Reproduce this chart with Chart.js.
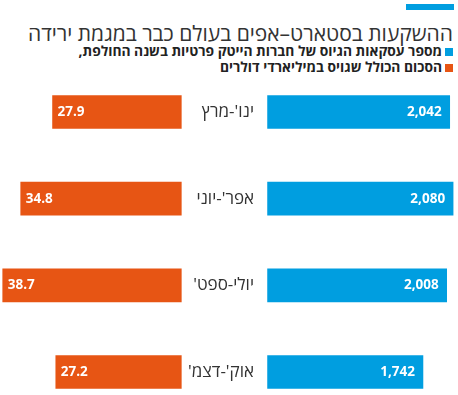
<!DOCTYPE html>
<html lang="he">
<head>
<meta charset="utf-8">
<script src="https://cdn.jsdelivr.net/npm/chart.js@4"></script>
<style>
  html,body{margin:0;padding:0;background:#fff;}
  body{width:458px;height:395px;position:relative;overflow:hidden;font-family:'Open Sans','Liberation Sans','DejaVu Sans',sans-serif;}
  .rule{position:absolute;left:406px;top:4px;width:48px;height:6px;background:#009ee0;}
  h1{position:absolute;right:5px;top:19px;margin:0;font-size:21px;font-weight:400;color:#333;direction:rtl;white-space:nowrap;}
  .leg{position:absolute;right:5px;direction:rtl;white-space:nowrap;font-size:13.8px;font-weight:700;color:#222;line-height:16px;}
  .leg i{display:inline-block;width:8px;height:8px;margin-left:3px;}
  #wrap{position:absolute;left:0;top:0;width:458px;height:395px;}
</style>
</head>
<body>
<div class="rule"></div>
<h1>ההשקעות בסטארט–אפים בעולם כבר במגמת ירידה</h1>
<div class="leg" style="top:43px"><i style="background:#009ee0"></i>מספר עסקאות הגיוס של חברות הייטק פרטיות בשנה החולפת,</div>
<div class="leg" style="top:59px"><i style="background:#e75514"></i>הסכום הכולל שגויס במיליארדי דולרים</div>
<div id="wrap"><canvas id="c"></canvas></div>
<script>
/* ── data ── */
const QUARTERS = ["ינו'-מרץ", "אפר'-יוני", "יולי-ספט'", "אוק'-דצמ'"];
const DEALS    = [2042, 2080, 2008, 1742];      // blue, number of deals
const AMOUNT   = [27.9, 34.8, 38.7, 27.2];      // orange, $ billions

const BLUE = '#009ee0', ORANGE = '#e75514';
const FONT = "'Open Sans','Liberation Sans','DejaVu Sans',sans-serif";

/* ── labels drawn on top of bars ── */
const labelsPlugin = {
  id:'labels',
  afterDatasetsDraw(chart) {
    const { ctx } = chart;
    const y = chart.scales.y;
    ctx.save();
    ctx.textBaseline = 'middle';
    QUARTERS.forEach((q, i) => {
      const py = y.getPixelForValue(i);
      // category label in the middle gap
      ctx.font = `400 17px ${FONT}`;
      ctx.fillStyle = '#333';
      ctx.direction = 'rtl';
      ctx.textAlign = 'right';
      ctx.fillText(q, 254, py);
      ctx.direction = 'ltr';
      // blue value, right inside bar end
      const bEnd = chart.scales.xb.getPixelForValue(DEALS[i]);
      ctx.font = `700 13.5px ${FONT}`;
      ctx.fillStyle = '#fff';
      ctx.textAlign = 'right';
      ctx.fillText(DEALS[i].toLocaleString('en-US'), bEnd - 8, py);
      // orange value, left inside bar end
      const oEnd = chart.scales.xo.getPixelForValue(AMOUNT[i]);
      ctx.textAlign = 'left';
      ctx.fillText(AMOUNT[i].toFixed(1), oEnd + 5, py);
    });
    ctx.restore();
  }
};

/* ── chart ── */
const c = new Chart(document.getElementById('c'), {
  type:'bar',
  data:{
    labels: QUARTERS,
    datasets:[
      { label:'deals',  data:DEALS,  backgroundColor:BLUE,   xAxisID:'xb', barThickness:33, clip:false },
      { label:'amount', data:AMOUNT, backgroundColor:ORANGE, xAxisID:'xo', barThickness:33, clip:false },
    ]
  },
  options:{
    indexAxis:'y',
    responsive:true, maintainAspectRatio:false, animation:false,
    grouped:false,
    layout:{ padding:{ top:112, bottom:23, left:0, right:0 } },
    plugins:{ legend:{display:false}, tooltip:{enabled:false} },
    scales:{
      y:{ type:'category', offset:false, display:false },
      // blue: zero at ~267px, grows right
      xb:{ type:'linear', min:-3000, max:2135, display:false },
      // orange: zero at ~181px, grows left
      xo:{ type:'linear', min:-59.96, max:39.29, reverse:true, display:false },
    }
  },
  plugins:[labelsPlugin]
});
</script>
</body>
</html>
